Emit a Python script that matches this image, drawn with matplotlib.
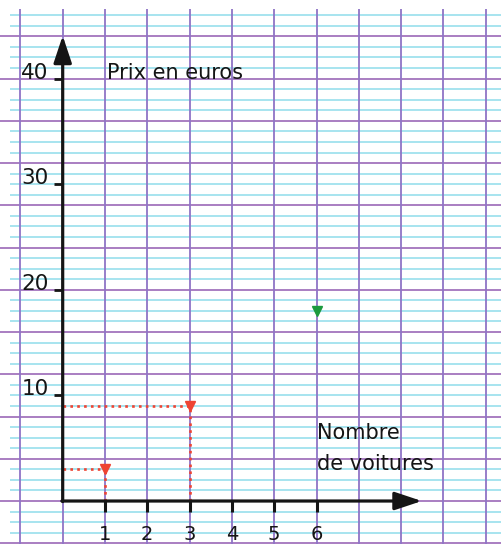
import matplotlib
matplotlib.use("Agg")
import matplotlib.pyplot as plt
import numpy as np

# ---- data ----
cars = [1, 3, 6]
prices = [3, 9, 18]
point_colors = ["#ee4433", "#ee4433", "#1c9a3e"]
guided = [True, True, False]          # dotted guides drawn for these points
x_ticks = [1, 2, 3, 4, 5, 6]
y_ticks = [10, 20, 30, 40]
y_title = "Prix en euros"
x_title = ["Nombre", "de voitures"]

# ---- figure ----
fig = plt.figure(figsize=(5.02, 5.44), dpi=100)
ax = fig.add_axes([0, 0, 1, 1])
XMIN, XMAX = -1.482, 10.385
YMIN, YMAX = -4.07, 47.44
ax.set_xlim(XMIN, XMAX)
ax.set_ylim(YMIN, YMAX)
ax.axis("off")

purple_v = "#8f74c6"
purple_h = "#a274bd"
cyan = "#8fdceb"

# Seyes paper grid
for yv in range(-3, 47):
    if yv % 4 != 0:
        ax.plot([-1.245, XMAX], [yv, yv], color=cyan, lw=1.1, zorder=1,
                solid_capstyle="butt")
for yv in range(-4, 45, 4):
    ax.plot([XMIN, XMAX], [yv, yv], color=purple_h, lw=1.3, zorder=2,
            solid_capstyle="butt")
for xv in range(-1, 11):
    ax.plot([xv, xv], [YMIN, 46.6], color=purple_v, lw=1.3, zorder=2,
            solid_capstyle="butt")

# dotted guides
for cx, py, g in zip(cars, prices, guided):
    if g:
        ax.plot([0, cx], [py, py], color="#ee4433", lw=1.9,
                linestyle=(0, (1, 1.6)), zorder=3)
        ax.plot([cx, cx], [0, py], color="#ee4433", lw=1.9,
                linestyle=(0, (1, 1.6)), zorder=3)

# axes with arrows
ax.annotate("", xy=(0, 44.06), xytext=(0, -0.05),
            arrowprops=dict(arrowstyle="-|>,head_length=0.75,head_width=0.25",
                            lw=2.3, color="#151515", mutation_scale=22,
                            shrinkA=0, shrinkB=0), zorder=5)
ax.annotate("", xy=(8.49, 0), xytext=(-0.02, 0),
            arrowprops=dict(arrowstyle="-|>,head_length=0.75,head_width=0.25",
                            lw=2.3, color="#151515", mutation_scale=22,
                            shrinkA=0, shrinkB=0), zorder=5)

# ticks and labels
for t in x_ticks:
    ax.plot([t, t], [0, -1.04], color="#151515", lw=2.2, zorder=5,
            solid_capstyle="butt")
    ax.text(t, -2.25, str(t), ha="center", va="top", fontsize=14,
            color="#151515", zorder=6)
for t in y_ticks:
    ax.plot([-0.2, 0], [t, t], color="#151515", lw=2.0, zorder=5,
            solid_capstyle="butt")
    ax.text(-0.33, t, str(t), ha="right", va="baseline", fontsize=15.5,
            color="#151515", zorder=6)

# titles
ax.text(1.05, 40, y_title, ha="left", va="baseline", fontsize=15,
        color="#151515", zorder=6)
ax.text(6.0, 5.9, x_title[0], ha="left", va="baseline", fontsize=15,
        color="#151515", zorder=6)
ax.text(6.0, 2.9, x_title[1], ha="left", va="baseline", fontsize=15,
        color="#151515", zorder=6)

# points
for cx, py, c in zip(cars, prices, point_colors):
    ax.plot(cx, py, marker="v", ms=7, color=c, mec=c, zorder=7, ls="none")

fig.savefig("out.png", dpi=100, facecolor="white")
